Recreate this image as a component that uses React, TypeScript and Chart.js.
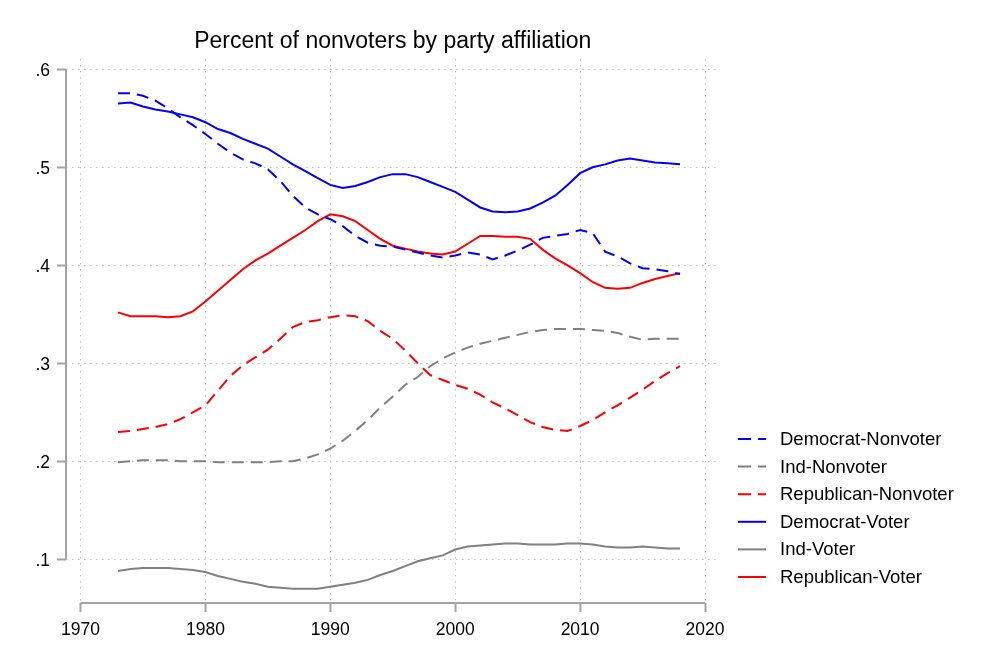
import React, { useEffect, useRef } from 'react';
import { Chart, registerables } from 'chart.js';

Chart.register(...registerables);

const TITLE = 'Percent of nonvoters by party affiliation';

const years = [
  1973, 1974, 1975, 1976, 1977, 1978, 1979, 1980, 1981, 1982,
  1983, 1984, 1985, 1986, 1987, 1988, 1989, 1990, 1991, 1992,
  1993, 1994, 1995, 1996, 1997, 1998, 1999, 2000, 2001, 2002,
  2003, 2004, 2005, 2006, 2007, 2008, 2009, 2010, 2011, 2012,
  2013, 2014, 2015, 2016, 2017, 2018,
];

const demNonvoter = [
  0.5755, 0.5755, 0.573, 0.568, 0.56, 0.551, 0.543, 0.534, 0.524, 0.515,
  0.508, 0.504, 0.498, 0.486, 0.471, 0.459, 0.452, 0.447, 0.44, 0.43,
  0.423, 0.42, 0.419, 0.416, 0.413, 0.41, 0.408, 0.41, 0.413, 0.411,
  0.406, 0.41, 0.415, 0.421, 0.428, 0.43, 0.432, 0.436, 0.433, 0.414,
  0.409, 0.402, 0.397, 0.396, 0.394, 0.391,
];

const indNonvoter = [
  0.199, 0.2, 0.201, 0.201, 0.201, 0.2, 0.2, 0.2, 0.199, 0.199,
  0.199, 0.199, 0.199, 0.2, 0.2, 0.203, 0.207, 0.213, 0.221, 0.231,
  0.242, 0.255, 0.266, 0.278, 0.286, 0.297, 0.305, 0.311, 0.316, 0.32,
  0.323, 0.326, 0.329, 0.332, 0.334, 0.335, 0.335, 0.335, 0.334, 0.333,
  0.331, 0.327, 0.324, 0.325, 0.325, 0.325,
];

const repNonvoter = [
  0.23, 0.231, 0.233, 0.235, 0.238, 0.243, 0.25, 0.257, 0.272, 0.287,
  0.298, 0.306, 0.314, 0.325, 0.337, 0.342, 0.344, 0.347, 0.349, 0.348,
  0.343, 0.333, 0.325, 0.313, 0.3, 0.288, 0.283, 0.278, 0.274, 0.268,
  0.26, 0.254, 0.247, 0.24, 0.235, 0.232, 0.231, 0.236, 0.242, 0.25,
  0.257, 0.265, 0.273, 0.282, 0.29, 0.297,
];

const demVoter = [
  0.565, 0.566, 0.562, 0.559, 0.557, 0.554, 0.551, 0.546, 0.539, 0.535,
  0.529, 0.524, 0.519, 0.511, 0.503, 0.496, 0.489, 0.482, 0.479, 0.481,
  0.485, 0.49, 0.493, 0.493, 0.49, 0.485, 0.48, 0.475, 0.467, 0.459,
  0.455, 0.454, 0.455, 0.458, 0.464, 0.471, 0.482, 0.494, 0.5, 0.503,
  0.507, 0.509, 0.507, 0.505, 0.504, 0.503,
];

const indVoter = [
  0.088, 0.09, 0.091, 0.091, 0.091, 0.09, 0.089, 0.087, 0.083, 0.08,
  0.077, 0.075, 0.072, 0.071, 0.07, 0.07, 0.07, 0.072, 0.074, 0.076,
  0.079, 0.084, 0.088, 0.093, 0.098, 0.101, 0.104, 0.11, 0.113, 0.114,
  0.115, 0.116, 0.116, 0.115, 0.115, 0.115, 0.116, 0.116, 0.115, 0.113,
  0.112, 0.112, 0.113, 0.112, 0.111, 0.111,
];

const repVoter = [
  0.352, 0.348, 0.348, 0.348, 0.347, 0.348, 0.353, 0.363, 0.374, 0.385,
  0.396, 0.405, 0.412, 0.42, 0.428, 0.436, 0.445, 0.452, 0.45, 0.445,
  0.436, 0.427, 0.42, 0.417, 0.414, 0.412, 0.411, 0.414, 0.422, 0.43,
  0.43, 0.429, 0.429, 0.427, 0.416, 0.407, 0.4, 0.392, 0.383, 0.377,
  0.376, 0.377, 0.382, 0.386, 0.389, 0.392,
];

const xTicks = [1970, 1980, 1990, 2000, 2010, 2020];
const yTicks = [0.1, 0.2, 0.3, 0.4, 0.5, 0.6];

const BLUE = '#0000ff';
const GRAY = '#808080';
const RED = '#ff0000';
const DASH = [12, 7];
const FONT = "'Liberation Sans', Arial, sans-serif";
const AXIS_COLOR = '#a3a3a3';
const GRID_COLOR = '#bdbdbd';

const seriesDefs = [
  { label: 'Democrat-Nonvoter', values: demNonvoter, color: BLUE, dashed: true },
  { label: 'Ind-Nonvoter', values: indNonvoter, color: GRAY, dashed: true },
  { label: 'Republican-Nonvoter', values: repNonvoter, color: RED, dashed: true },
  { label: 'Democrat-Voter', values: demVoter, color: BLUE, dashed: false },
  { label: 'Ind-Voter', values: indVoter, color: GRAY, dashed: false },
  { label: 'Republican-Voter', values: repVoter, color: RED, dashed: false },
];

const decorPlugin = {
  id: 'stataDecor',
  afterDraw(chart: any) {
    const { ctx, chartArea } = chart;
    const xs = chart.scales.x;
    const ys = chart.scales.y;
    ctx.save();
    // axis lines
    ctx.strokeStyle = AXIS_COLOR;
    ctx.lineWidth = 2;
    ctx.setLineDash([]);
    ctx.beginPath();
    ctx.moveTo(chartArea.left, ys.getPixelForValue(yTicks[yTicks.length - 1]));
    ctx.lineTo(chartArea.left, ys.getPixelForValue(yTicks[0]));
    ctx.stroke();
    ctx.beginPath();
    ctx.moveTo(xs.getPixelForValue(xTicks[0]), chartArea.bottom);
    ctx.lineTo(xs.getPixelForValue(xTicks[xTicks.length - 1]), chartArea.bottom);
    ctx.stroke();

    // title
    const cx = (xs.getPixelForValue(xTicks[0]) + xs.getPixelForValue(xTicks[xTicks.length - 1])) / 2;
    ctx.fillStyle = '#000';
    ctx.font = `23px ${FONT}`;
    ctx.textAlign = 'center';
    ctx.textBaseline = 'alphabetic';
    ctx.fillText(TITLE, cx, 48);

    // legend
    const lx = 738;
    const ly0 = 439;
    const step = 27.6;
    ctx.font = `18.5px ${FONT}`;
    ctx.textAlign = 'left';
    ctx.textBaseline = 'middle';
    chart.data.datasets.forEach((ds: any, i: number) => {
      const yy = ly0 + i * step;
      ctx.strokeStyle = ds.borderColor;
      ctx.lineWidth = 2;
      ctx.setLineDash(ds.borderDash && ds.borderDash.length ? [13, 7] : []);
      ctx.beginPath();
      ctx.moveTo(lx, yy);
      ctx.lineTo(lx + 28, yy);
      ctx.stroke();
      ctx.setLineDash([]);
      ctx.fillStyle = '#000';
      ctx.fillText(ds.label, lx + 42, yy + 1);
    });
    ctx.restore();
  },
};

export default function App() {
  const ref = useRef<HTMLCanvasElement | null>(null);

  useEffect(() => {
    if (!ref.current) return;
    const chart = new Chart(ref.current, {
      type: 'line',
      data: {
        datasets: seriesDefs.map((s) => ({
          label: s.label,
          data: years.map((yr, i) => ({ x: yr, y: s.values[i] })),
          borderColor: s.color,
          backgroundColor: s.color,
          borderWidth: 2,
          borderDash: s.dashed ? DASH : [],
          pointRadius: 0,
          tension: 0,
          fill: false,
        })),
      },
      options: {
        animation: false,
        responsive: false,
        layout: { padding: { left: 0, top: 59, right: 282, bottom: 0 } },
        plugins: {
          legend: { display: false },
          title: { display: false },
          tooltip: { enabled: false },
        },
        scales: {
          x: {
            type: 'linear',
            min: 1968.84,
            max: 2021.04,
            afterBuildTicks: (s: any) => {
              s.ticks = xTicks.map((v) => ({ value: v }));
            },
            afterFit: (s: any) => {
              s.height = 64;
            },
            ticks: {
              color: '#000',
              font: { family: FONT, size: 17.5 },
              padding: 8,
              maxRotation: 0,
              callback: (v: any) => String(v),
            },
            grid: {
              color: GRID_COLOR,
              lineWidth: 1,
              drawTicks: true,
              tickLength: 9,
              tickColor: AXIS_COLOR,
              tickWidth: 2,
              tickBorderDash: [],
            },
            border: { display: false, dash: [1.5, 4.5] },
          },
          y: {
            type: 'linear',
            min: 0.0554,
            max: 0.6105,
            afterBuildTicks: (s: any) => {
              s.ticks = yTicks.map((v) => ({ value: v }));
            },
            afterFit: (s: any) => {
              s.width = 66;
            },
            ticks: {
              color: '#000',
              font: { family: FONT, size: 17.5 },
              padding: 7,
              labelOffset: 2,
              callback: (v: any) => Number(v).toFixed(1).replace(/^0/, ''),
            },
            grid: {
              color: GRID_COLOR,
              lineWidth: 1,
              drawTicks: true,
              tickLength: 9,
              tickColor: AXIS_COLOR,
              tickWidth: 2,
              tickBorderDash: [],
            },
            border: { display: false, dash: [1.5, 4.5] },
          },
        },
      },
      plugins: [decorPlugin],
    });
    return () => chart.destroy();
  }, []);

  return (
    <div style={{ position: 'absolute', left: 0, top: 0, width: 1000, height: 667, background: '#fff' }}>
      <canvas ref={ref} width={1000} height={667} style={{ width: 1000, height: 667 }} />
    </div>
  );
}
